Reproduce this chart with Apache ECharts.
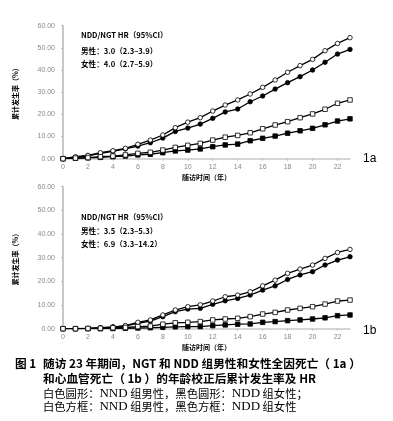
<!DOCTYPE html>
<html><head><meta charset="utf-8">
<script src="https://cdn.jsdelivr.net/npm/echarts@6/dist/echarts.min.js"></script>
<style>html,body{margin:0;padding:0;background:#fff}#c{width:393px;height:421px}</style>
</head><body><div id="c"></div>
<script>
const years = [0,1,2,3,4,5,6,7,8,9,10,11,12,13,14,15,16,17,18,19,20,21,22,23];
const yTicks = [0,10,20,30,40,50,60];
// Panel 1a: all-cause death
const a_whiteCircle = [0,0.9,1.5,2.7,3.6,4.7,6.5,8.4,10.7,14.0,16.5,18.5,21.5,24.2,26.5,29.2,32.2,35.5,39.0,42.0,44.8,48.7,52.0,54.6];
const a_blackCircle = [0,0.6,1.3,2.4,3.3,4.4,5.7,7.2,9.3,12.3,13.8,15.6,18.2,21.1,22.4,25.7,28.3,31.4,34.3,37.0,40.0,43.5,47.2,49.3];
const a_whiteSquare = [0,0.3,0.5,0.9,1.2,1.7,2.4,2.9,3.9,5.1,6.0,6.9,8.4,9.7,10.5,11.7,13.5,15.2,16.7,18.5,20.2,22.3,25.0,26.5];
const a_blackSquare = [0,0.2,0.4,0.6,0.9,1.2,1.7,2.0,2.7,3.5,3.9,4.4,5.4,6.2,6.6,8.1,9.2,10.2,11.5,12.6,13.7,15.3,17.0,18.0];
// Panel 1b: cardiovascular death
const b_whiteCircle = [0,0,0.1,0.3,0.6,1.3,2.7,3.7,5.8,7.9,9.3,10.1,11.7,13.5,14.2,15.6,18.1,20.5,23.4,25.2,26.9,29.7,32.2,33.5];
const b_blackCircle = [0,0,0.1,0.4,0.8,1.2,2.3,3.2,5.1,7.2,8.3,8.6,10.3,11.8,12.8,14.2,16.3,18.1,20.8,22.7,24.1,26.9,29.0,30.4];
const b_whiteSquare = [0,0,0.1,0.2,0.4,0.5,0.9,1.1,1.9,2.5,2.7,3.0,3.7,4.1,4.4,5.1,6.2,6.9,7.9,8.6,9.3,10.4,11.7,12.1];
const b_blackSquare = [0,0,0,0,0.1,0.2,0.3,0.4,0.6,0.8,0.9,0.9,1.3,1.6,1.9,2.0,2.7,3.0,3.4,3.7,4.1,4.6,5.5,5.8];

const xTitle = '随访时间（年）';
const yTitle = '累计发生率（%）';
const hrHead = 'NDD/NGT HR（95%CI）';
const a_hr = ['男性：3.0（2.3–3.9）','女性：4.0（2.7–5.9）'];
const b_hr = ['男性：3.5（2.3–5.3）','女性：6.9（3.3–14.2）'];
const caption = [
  '随访 23 年期间，NGT 和 NDD 组男性和女性全因死亡（ 1a ）',
  '和心血管死亡（ 1b ）的年龄校正后累计发生率及 HR',
  '白色圆形：NND 组男性，黑色圆形：NDD 组女性；',
  '白色方框：NND 组男性，黑色方框：NDD 组女性'
];

const FONT = '"Noto Sans CJK SC", "Liberation Sans", sans-serif';
const SERIF = '"Liberation Serif", "Noto Sans CJK SC", serif';
const zip = arr => arr.map((v,i)=>[years[i], v]);

function xAx(gi){
  return {type:'value', gridIndex:gi, min:0, max:23, interval:2,
    name:xTitle, nameLocation:'middle', nameGap:15,
    nameTextStyle:{fontSize:7, fontWeight:'bold', fontFamily:FONT, color:'#000'},
    axisLine:{lineStyle:{color:'#c8c8c8', width:1.5}},
    axisTick:{show:true, length:2, lineStyle:{color:'#bbb'}},
    splitLine:{show:false},
    axisLabel:{color:'#888', fontSize:7, fontFamily:'Liberation Sans', margin:5, showMaxLabel:false}
  };
}
function yAx(gi){
  return {type:'value', gridIndex:gi, min:yTicks[0], max:yTicks[yTicks.length-1], interval:10,
    name:yTitle, nameLocation:'middle', nameRotate:90, nameGap:44,
    nameTextStyle:{fontSize:7, fontWeight:'bold', fontFamily:FONT, color:'#000'},
    axisLine:{show:true, lineStyle:{color:'#c8c8c8', width:2}},
    axisTick:{show:true, length:2, lineStyle:{color:'#bbb'}},
    splitLine:{show:false},
    axisLabel:{color:'#888', fontSize:7, fontFamily:'Liberation Sans', margin:8, formatter:v=>v.toFixed(2)}
  };
}
function ser(data, gi, sym, fill){
  return {type:'line', xAxisIndex:gi, yAxisIndex:gi, data:zip(data),
    symbol:sym, symbolSize:4.5, showAllSymbol:true,
    lineStyle:{color:'#000', width:1.3},
    itemStyle:{color:fill, borderColor:'#000', borderWidth:0.8},
    animation:false, z: fill==='#fff'?3:2};
}
function txt(left, top, text, size, weight, family){
  return {type:'text', left, top, style:{text, fontSize:size, fontWeight:weight||'normal', fontFamily:family||FONT, fill:'#000'}};
}
function serifLine(left, top, s){
  const rt = '{c|' + s.replace(/([A-Za-z]+)/g, '}{l|$1}{c|') + '}';
  return {type:'text', left, top, style:{text:rt, fill:'#000', rich:{
    c:{fontSize:11.3, fontFamily:FONT, fontWeight:'normal', lineHeight:13, fill:'#000'},
    l:{fontSize:13, fontFamily:'"Liberation Serif", serif', lineHeight:13, fill:'#000'}
  }}};
}

const chart = echarts.init(document.getElementById('c'));
chart.setOption({
  animation:false,
  grid:[
    {left:63, width:287, top:25.7, height:133},
    {left:63, width:287, top:186.7, height:142}
  ],
  xAxis:[xAx(0), xAx(1)],
  yAxis:[yAx(0), yAx(1)],
  series:[
    ser(a_blackCircle,0,'circle','#000'),
    ser(a_whiteCircle,0,'circle','#fff'),
    ser(a_blackSquare,0,'rect','#000'),
    ser(a_whiteSquare,0,'rect','#fff'),
    ser(b_blackCircle,1,'circle','#000'),
    ser(b_whiteCircle,1,'circle','#fff'),
    ser(b_blackSquare,1,'rect','#000'),
    ser(b_whiteSquare,1,'rect','#fff')
  ],
  graphic:[
    txt(81, 31.5, hrHead, 7.6, 'bold'),
    txt(81, 47, a_hr[0], 7.6, 'bold'),
    txt(81, 60, a_hr[1], 7.6, 'bold'),
    txt(81, 213, hrHead, 7.6, 'bold'),
    txt(81, 227, b_hr[0], 7.6, 'bold'),
    txt(81, 240.5, b_hr[1], 7.6, 'bold'),
    txt(363, 153, '1a', 12, 'normal', 'Liberation Sans'),
    txt(363, 325, '1b', 12, 'normal', 'Liberation Sans'),
    txt(15, 358, '图 1', 11.7, 'bold'),
    txt(43, 358, caption[0], 11.7, 'bold'),
    txt(43, 372.5, caption[1], 11.7, 'bold'),
    serifLine(43, 387, caption[2]),
    serifLine(43, 400, caption[3])
  ]
});
</script></body></html>
